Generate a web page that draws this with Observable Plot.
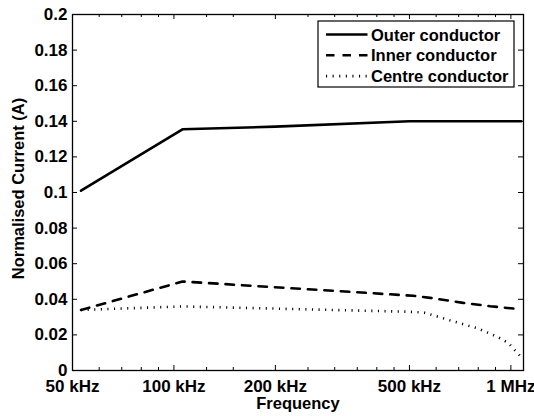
<!DOCTYPE html>
<html>
<head>
<meta charset="utf-8">
<script src="https://cdn.jsdelivr.net/npm/d3@7"></script>
<script src="https://cdn.jsdelivr.net/npm/@observablehq/plot@0.6"></script>
<style>
  html, body { margin: 0; padding: 0; background: #fff; }
  #chart svg { display: block; }
</style>
</head>
<body>
<div id="chart"></div>
<script>
// Normalised current in each conductor versus excitation frequency (Hz)
const outerFreq = [53000, 106000, 200000, 500000, 1073000];
const outerCurrent = [0.101, 0.1355, 0.137, 0.140, 0.140];

const innerFreq = [53000, 106000, 513000, 576000, 722000, 868000, 1044000, 1073000];
const innerCurrent = [0.034, 0.050, 0.042, 0.0408, 0.038, 0.0361, 0.0346, 0.0343];

const centreFreq = [53000, 106000, 500000, 553000, 665000, 795000, 911000, 982000, 1073000];
const centreCurrent = [0.034, 0.036, 0.033, 0.0325, 0.028, 0.0237, 0.019, 0.0155, 0.0075];

// Axis ticks
const xTickValues = [50000, 100000, 200000, 500000, 1000000];
const xTickLabels = ["50 kHz", "100 kHz", "200 kHz", "500 kHz", "1 MHz"];
const xMinorTicks = [60000, 70000, 80000, 90000, 125000, 150000, 250000, 300000, 350000,
  400000, 450000, 600000, 700000, 800000, 900000];
const yTickValues = [0, 0.02, 0.04, 0.06, 0.08, 0.1, 0.12, 0.14, 0.16, 0.18, 0.2];

const seriesNames = ["Outer conductor", "Inner conductor", "Centre conductor"];

const toRows = (f, v) => f.map((x, i) => ({freq: x, current: v[i]}));
const outer = toRows(outerFreq, outerCurrent);
const inner = toRows(innerFreq, innerCurrent);
const centre = toRows(centreFreq, centreCurrent);

const width = 534, height = 416;
const margin = {top: 14, right: 11, bottom: 46, left: 72};
const frameW = width - margin.left - margin.right;
const frameH = height - margin.top - margin.bottom;
const major = 5, minor = 3;
const font = "'Liberation Sans', Arial, Helvetica, sans-serif";
const tickFont = 17, labelFont = 16.5;

const styles = {
  solid: {stroke: "black", strokeWidth: 2.6},
  dashed: {stroke: "black", strokeWidth: 2.6, strokeDasharray: "8.5,8"},
  dotted: {stroke: "black", strokeWidth: 2.6, strokeDasharray: "1.1,5.5", strokeLinecap: "butt"}
};

const chart = Plot.plot({
  width, height,
  marginTop: margin.top, marginRight: margin.right,
  marginBottom: margin.bottom, marginLeft: margin.left,
  style: {fontFamily: font, fontWeight: "bold", fontSize: "16px", color: "black", background: "white"},
  x: {type: "log", domain: [50000, 1090000]},
  y: {domain: [0, 0.2]},
  marks: [
    // inward tick marks on all four sides
    Plot.ruleX(xTickValues, {x: d => d, insetTop: frameH - major, stroke: "black"}),
    Plot.ruleX(xTickValues, {x: d => d, insetBottom: frameH - major, stroke: "black"}),
    Plot.ruleX(xMinorTicks, {x: d => d, insetTop: frameH - minor, stroke: "black"}),
    Plot.ruleX(xMinorTicks, {x: d => d, insetBottom: frameH - minor, stroke: "black"}),
    Plot.ruleY(yTickValues, {y: d => d, insetRight: frameW - major, stroke: "black"}),
    Plot.ruleY(yTickValues, {y: d => d, insetLeft: frameW - major, stroke: "black"}),

    Plot.axisX({
      ticks: xTickValues,
      tickFormat: d => xTickLabels[xTickValues.indexOf(d)],
      tickSize: 0, tickPadding: 9, fontSize: tickFont, fontWeight: "bold", label: null
    }),
    Plot.axisY({
      ticks: yTickValues,
      tickFormat: d => String(+d.toFixed(2)),
      tickSize: 0, tickPadding: 5, fontSize: tickFont, fontWeight: "bold", label: null
    }),

    Plot.text(["Frequency"], {frameAnchor: "bottom", dy: 38, fontSize: labelFont, fontWeight: "bold"}),
    Plot.text(["Normalised Current (A)"], {
      frameAnchor: "left", textAnchor: "middle", rotate: -90,
      dx: -54, dy: -4, fontSize: labelFont, fontWeight: "bold"
    }),

    Plot.line(centre, {x: "freq", y: "current", ...styles.dotted}),
    Plot.line(inner, {x: "freq", y: "current", ...styles.dashed}),
    Plot.line(outer, {x: "freq", y: "current", ...styles.solid}),

    Plot.frame({stroke: "black", strokeWidth: 1.3})
  ]
});

document.getElementById("chart").appendChild(chart);

// Legend box in the upper right corner of the axes
const svg = d3.select(chart);
const lg = svg.append("g").attr("transform", "translate(318,21)");
lg.append("rect").attr("width", 196).attr("height", 66)
  .attr("fill", "white").attr("stroke", "black").attr("stroke-width", 1.2);
const legendStyles = [styles.solid, styles.dashed, styles.dotted];
seriesNames.forEach((name, i) => {
  const y = 13.5 + i * 20.8;
  const s = legendStyles[i];
  lg.append("line").attr("x1", 8).attr("x2", 49.5).attr("y1", y).attr("y2", y)
    .attr("stroke", s.stroke).attr("stroke-width", s.strokeWidth)
    .attr("stroke-dasharray", s.strokeDasharray || null)
    .attr("stroke-linecap", "butt");
  lg.append("text").attr("x", 53).attr("y", y + 6)
    .attr("text-anchor", "start")
    .attr("font-family", font).attr("font-weight", "bold").attr("font-size", 16.5)
    .attr("fill", "black").text(name);
});
</script>
</body>
</html>
